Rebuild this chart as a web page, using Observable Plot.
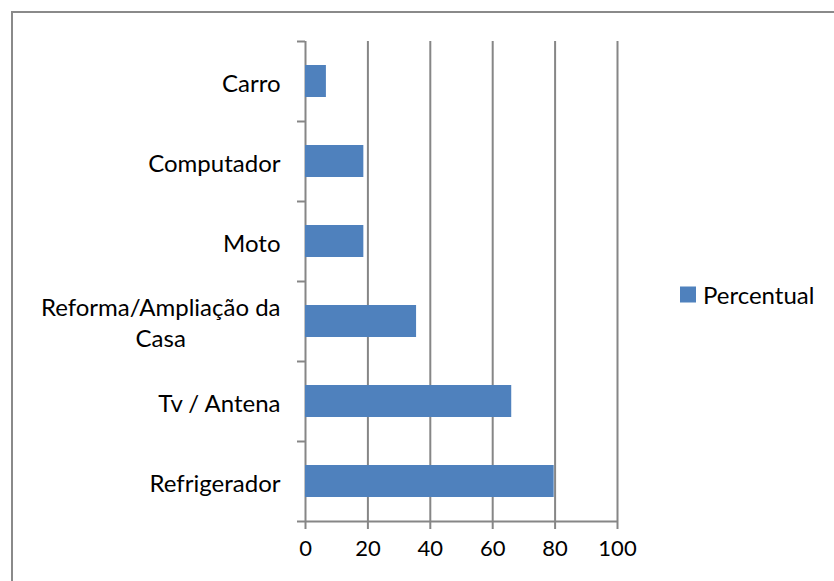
<!DOCTYPE html>
<html><head><meta charset="utf-8">
<script src="https://cdn.jsdelivr.net/npm/d3@7"></script>
<script src="https://cdn.jsdelivr.net/npm/@observablehq/plot@0.6"></script>
<style>
body{margin:0;background:#fff;}
#wrap{position:relative;width:834px;height:581px;overflow:hidden;background:#fff;font-family:Lato,sans-serif;}
#border{position:absolute;left:11px;top:11px;width:900px;height:700px;border:2px solid #8a8a8a;box-sizing:border-box;}
#plot{position:absolute;left:0;top:0;}
#legend{position:absolute;left:680px;top:300px;transform:translateY(-50%);}
#legend svg{margin-right:7px !important;}
</style></head><body>
<div id="wrap"><div id="border"></div><div id="plot"></div><div id="legend"></div></div>
<script>
const categories = ["Carro", "Computador", "Moto", "Reforma/Ampliação da\nCasa", "Tv / Antena", "Refrigerador"];
const values = [6.7, 18.7, 18.7, 35.6, 66.1, 79.7];
const xTicks = [0, 20, 40, 60, 80, 100];
const seriesName = "Percentual";

const data = categories.map((c, i) => ({category: c, value: values[i]}));
const gray = "#868686";
const barColor = "#4F81BD";
const fontSize = 24;
const tickFontSize = 22;
const fontFamily = "Lato, sans-serif";

const chart = Plot.plot({
  width: 834,
  height: 581,
  marginLeft: 305,
  marginRight: 217,
  marginTop: 41,
  marginBottom: 60,
  style: {background: "transparent", fontFamily, fontSize: fontSize + "px", color: "black"},
  x: {domain: [0, 100], label: null},
  y: {domain: categories, paddingInner: 0.6, paddingOuter: 0.3, label: null},
  marks: [
    Plot.ruleX(xTicks, {stroke: gray, strokeWidth: 2}),
    Plot.ruleY([categories[categories.length - 1]], {x1: 0, x2: 100, dy: 40, stroke: gray, strokeWidth: 2}),
    Plot.barX(data, {x: "value", y: "category", fill: barColor}),
    Plot.axisY({tickSize: 8, tickFormat: () => "", dy: -40, stroke: gray, strokeWidth: 2, label: null}),
    Plot.axisY({ticks: [categories[categories.length - 1]], tickSize: 8, tickFormat: () => "", dy: 40, stroke: gray, strokeWidth: 2, label: null}),
    Plot.axisY({tickSize: 0, tickPadding: 25, fontSize, fill: "black", lineHeight: 1.32, label: null}),
    Plot.axisX({ticks: xTicks, tickSize: 8, tickPadding: 11, fontSize: tickFontSize, stroke: gray, strokeWidth: 2, fill: "black", label: null})
  ]
});
document.getElementById("plot").appendChild(chart);

// center multi-line tick labels like the original
chart.querySelectorAll("text").forEach(t => {
  const spans = t.querySelectorAll("tspan");
  if (spans.length > 1) {
    let maxW = 0;
    spans.forEach(s => { maxW = Math.max(maxW, s.getComputedTextLength()); });
    t.setAttribute("text-anchor", "middle");
    spans.forEach(s => s.setAttribute("x", -maxW / 2));
  }
});

const legend = Plot.legend({
  color: {domain: [seriesName], range: [barColor]},
  legend: "swatches",
  swatchSize: 16,
  style: {fontFamily, fontSize: fontSize + "px", color: "black"}
});
document.getElementById("legend").appendChild(legend);
</script>
</body></html>
